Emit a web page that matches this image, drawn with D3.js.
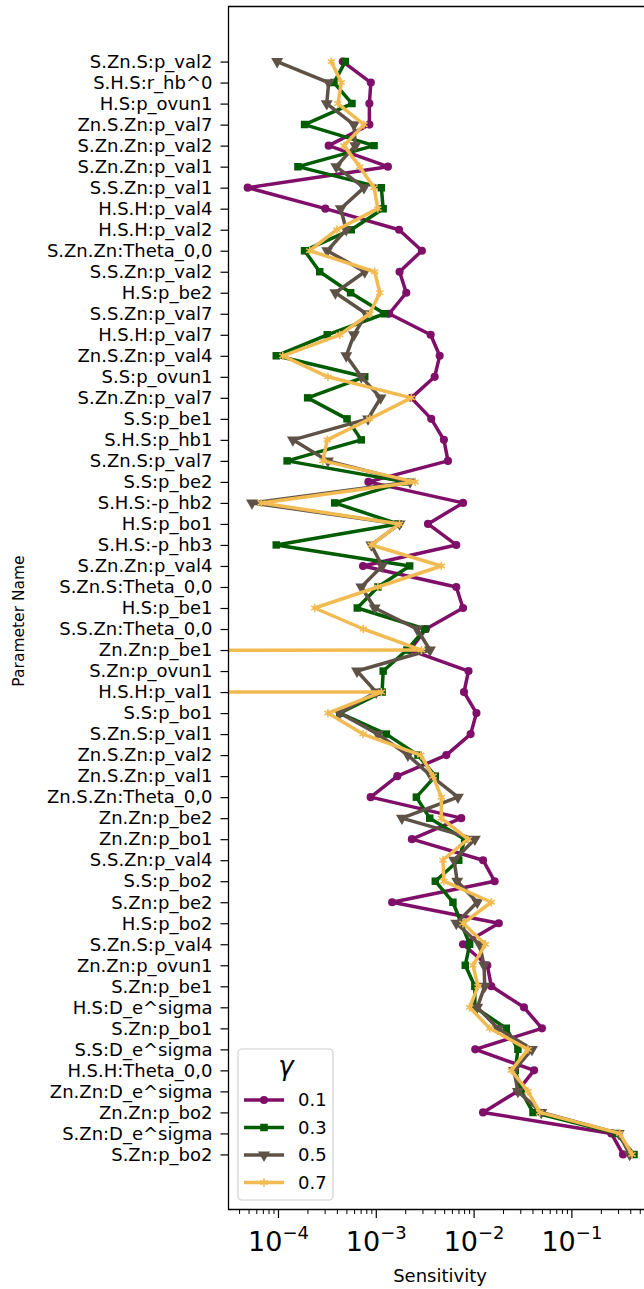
<!DOCTYPE html>
<html>
<head>
<meta charset="utf-8">
<script src="https://cdn.jsdelivr.net/npm/d3@7"></script>
<style>
  body { margin: 0; background: #fff; }
  text { font-family: "DejaVu Sans", sans-serif; }
</style>
</head>
<body>
<svg id="chart" width="644" height="1289"></svg>
<script>
// parameter names, top to bottom
var params = [
  "S.Zn.S:p_val2", "S.H.S:r_hb^0", "H.S:p_ovun1", "Zn.S.Zn:p_val7", "S.Zn.Zn:p_val2",
  "S.Zn.Zn:p_val1", "S.S.Zn:p_val1", "H.S.H:p_val4", "H.S.H:p_val2", "S.Zn.Zn:Theta_0,0",
  "S.S.Zn:p_val2", "H.S:p_be2", "S.S.Zn:p_val7", "H.S.H:p_val7", "Zn.S.Zn:p_val4",
  "S.S:p_ovun1", "S.Zn.Zn:p_val7", "S.S:p_be1", "S.H.S:p_hb1", "S.Zn.S:p_val7",
  "S.S:p_be2", "S.H.S:-p_hb2", "H.S:p_bo1", "S.H.S:-p_hb3", "S.Zn.Zn:p_val4",
  "S.Zn.S:Theta_0,0", "H.S:p_be1", "S.S.Zn:Theta_0,0", "Zn.Zn:p_be1", "S.Zn:p_ovun1",
  "H.S.H:p_val1", "S.S:p_bo1", "S.Zn.S:p_val1", "Zn.S.Zn:p_val2", "Zn.S.Zn:p_val1",
  "Zn.S.Zn:Theta_0,0", "Zn.Zn:p_be2", "Zn.Zn:p_bo1", "S.S.Zn:p_val4", "S.S:p_bo2",
  "S.Zn:p_be2", "H.S:p_bo2", "S.Zn.S:p_val4", "Zn.Zn:p_ovun1", "S.Zn:p_be1",
  "H.S:D_e^sigma", "S.Zn:p_bo1", "S.S:D_e^sigma", "H.S.H:Theta_0,0", "Zn.Zn:D_e^sigma",
  "Zn.Zn:p_bo2", "S.Zn:D_e^sigma", "S.Zn:p_bo2"
];

// sensitivity for gamma = 0.1, 0.3, 0.5, 0.7
var gamma01 = [
  4.6e-4, 8.9e-4, 8.6e-4, 8.6e-4, 3.3e-4, 1.33e-3, 4.9e-5, 3.05e-4, 1.73e-3, 2.96e-3,
  1.75e-3, 2.05e-3, 1.37e-3, 3.64e-3, 4.5e-3, 4.0e-3, 2.31e-3, 3.69e-3, 4.97e-3, 5.47e-3,
  8.4e-4, 7.8e-3, 3.42e-3, 6.65e-3, 7.4e-4, 6.65e-3, 7.8e-3, 3.26e-3, 2.24e-3, 8.87e-3,
  7.98e-3, 1.07e-2, 9.33e-3, 5.26e-3, 1.66e-3, 8.87e-4, 7.48e-3, 2.34e-3, 1.25e-2, 1.64e-2,
  1.47e-3, 1.81e-2, 7.8e-3, 1.38e-2, 1.52e-2, 3.27e-2, 5.0e-2, 1.04e-2, 4.15e-2, 2.8e-2,
  1.25e-2, 0.256, 0.337
];
var gamma03 = [
  4.88e-4, 3.74e-4, 5.71e-4, 1.87e-4, 9.6e-4, 1.6e-4, 1.14e-3, 1.19e-3, 5.61e-4, 1.87e-4,
  2.67e-4, 5.53e-4, 1.23e-3, 3.19e-4, 9.6e-5, 7.71e-4, 2.01e-4, 5.08e-4, 7.11e-4, 1.24e-4,
  1.99e-3, 3.8e-4, 1.69e-3, 9.6e-5, 2.22e-3, 1.05e-3, 6.47e-4, 3.18e-3, 2.08e-3, 1.19e-3,
  1.16e-3, 4.28e-4, 1.28e-3, 2.7e-3, 4.06e-3, 2.6e-3, 3.56e-3, 8.1e-3, 7.05e-3, 4.06e-3,
  6.15e-3, 7.48e-3, 9.12e-3, 8.22e-3, 1.03e-2, 1.03e-2, 2.16e-2, 2.84e-2, 2.67e-2, 3.08e-2,
  4.05e-2, 0.288, 0.437
];
var gamma05 = [
  9.8e-5, 3.3e-4, 3.15e-4, 5.98e-4, 6.17e-4, 3.94e-4, 7.57e-4, 4.38e-4, 4.99e-4, 3.19e-4,
  7.71e-4, 3.86e-4, 8.0e-4, 5.98e-4, 4.99e-4, 7.11e-4, 1.12e-3, 8.32e-4, 1.42e-4, 3.24e-4,
  2.24e-3, 5.42e-5, 1.75e-3, 9.0e-4, 1.16e-3, 7.11e-4, 9.75e-4, 2.64e-3, 3.58e-3, 6.43e-4,
  1.01e-3, 4.28e-4, 1.05e-3, 2.13e-3, 3.69e-3, 6.92e-3, 1.85e-3, 1.03e-2, 6.31e-3, 6.8e-3,
  1.09e-2, 6.65e-3, 1.15e-2, 1.28e-2, 1.3e-2, 1.09e-2, 1.77e-2, 3.95e-2, 2.59e-2, 2.84e-2,
  4.92e-2, 0.305, 0.394
];
var gamma07 = [
  3.51e-4, 4.44e-4, 4.1e-4, 7.57e-4, 4.73e-4, 6.84e-4, 9.6e-4, 1.05e-3, 4.0e-4, 2.11e-4,
  9.75e-4, 1.1e-3, 8.67e-4, 4.28e-4, 1.12e-4, 3.24e-4, 2.31e-3, 8.67e-4, 3.19e-4, 2.88e-4,
  2.52e-3, 6.75e-5, 1.75e-3, 9.0e-4, 4.68e-3, 1.05e-3, 2.37e-4, 7.45e-4, 2.93e-3, 0,
  1.14e-3, 3.24e-4, 7.4e-4, 2.88e-3, 3.85e-3, 4.68e-3, 4.68e-3, 8.77e-3, 4.86e-3, 4.97e-3,
  1.52e-2, 7.8e-3, 1.32e-2, 9.86e-3, 1.11e-2, 9.12e-3, 1.46e-2, 3.6e-2, 2.43e-2, 3.6e-2,
  4.74e-2, 0.312, 0.417
];

var gammaLabels = ["0.1", "0.3", "0.5", "0.7"];
var xMajorTicks = [1e-4, 1e-3, 1e-2, 1e-1];
var xTickExp = ["\u22124", "\u22123", "\u22122", "\u22121"];

var series = [
  { label: gammaLabels[0], values: gamma01, color: "#7f0f69", marker: "circle" },
  { label: gammaLabels[1], values: gamma03, color: "#005c00", marker: "square" },
  { label: gammaLabels[2], values: gamma05, color: "#5e5247", marker: "triangle" },
  { label: gammaLabels[3], values: gamma07, color: "#f2bb52", marker: "star" }
];

// plot box (right side runs off the canvas like in the original)
var boxLeft = 228.5, boxTop = 6.5, boxBottom = 1209.5, boxRight = 700;

var svg = d3.select("#chart");

var x = d3.scaleLog()
  .domain([Math.pow(10, -4.506), Math.pow(10, 0.315)])
  .range([boxLeft, boxRight]);

var y = d3.scalePoint()
  .domain(params)
  .range([boxTop, boxBottom])
  .padding(2.62);

// zero values get clipped far to the left, like matplotlib does
function xPos(v) { return x(v > 0 ? v : 1e-300); }

svg.append("clipPath").attr("id", "plotclip")
  .append("rect")
  .attr("x", boxLeft).attr("y", boxTop)
  .attr("width", boxRight - boxLeft).attr("height", boxBottom - boxTop);

var plot = svg.append("g").attr("clip-path", "url(#plotclip)");

function markerPath(kind) {
  if (kind === "circle") return d3.symbol(d3.symbolCircle, 52)();
  if (kind === "square") return d3.symbol(d3.symbolSquare, 56)();
  if (kind === "triangle") return d3.symbol(d3.symbolTriangle, 62)();
  return d3.symbol(d3.symbolAsterisk, 48)();
}

function drawMarker(g, kind, color, px, py) {
  var p = g.append("path")
    .attr("d", markerPath(kind))
    .attr("transform", "translate(" + px + "," + py + ")" + (kind === "triangle" ? " rotate(180)" : ""));
  if (kind === "star") {
    p.attr("fill", "none").attr("stroke", color).attr("stroke-width", 1.6);
  } else {
    p.attr("fill", color);
  }
}

var line = d3.line()
  .x(function (d) { return xPos(d.v); })
  .y(function (d) { return y(d.name); });

series.forEach(function (s) {
  var pts = params.map(function (name, i) { return { name: name, v: s.values[i] }; });
  plot.append("path")
    .datum(pts)
    .attr("fill", "none")
    .attr("stroke", s.color)
    .attr("stroke-width", 3.5)
    .attr("stroke-linejoin", "round")
    .attr("d", line);
  var mg = plot.append("g");
  pts.forEach(function (d) {
    drawMarker(mg, s.marker, s.color, xPos(d.v), y(d.name));
  });
});

// y axis
var yAxis = svg.append("g")
  .attr("transform", "translate(" + boxLeft + ",0)")
  .call(d3.axisLeft(y).tickSize(8).tickPadding(8));
yAxis.select(".domain").remove();
yAxis.selectAll("line").attr("stroke", "#000").attr("stroke-width", 1.2);
yAxis.selectAll("text").attr("font-size", 18).attr("fill", "#000")
  .style("font-family", "DejaVu Sans");

// x axis, minor ticks
var minor = [];
[-5, -4, -3, -2, -1, 0].forEach(function (e) {
  for (var k = 2; k <= 9; k++) {
    var v = k * Math.pow(10, e);
    if (x(v) >= boxLeft && x(v) <= 644) minor.push(v);
  }
});
var xMinor = svg.append("g")
  .attr("transform", "translate(0," + boxBottom + ")")
  .call(d3.axisBottom(x).tickValues(minor).tickSize(4.5).tickFormat(""));
xMinor.select(".domain").remove();
xMinor.selectAll("line").attr("stroke", "#000").attr("stroke-width", 1);

var xAxis = svg.append("g")
  .attr("transform", "translate(0," + boxBottom + ")")
  .call(d3.axisBottom(x).tickValues(xMajorTicks).tickSize(8.5).tickFormat(""));
xAxis.select(".domain").remove();
xAxis.selectAll("line").attr("stroke", "#000").attr("stroke-width", 1.2);
xAxis.selectAll(".tick").each(function (d, i) {
  var t = d3.select(this).append("text")
    .attr("y", 41)
    .attr("text-anchor", "middle")
    .attr("fill", "#000")
    .style("font-family", "DejaVu Sans");
  t.append("tspan").attr("font-size", 27).text("10");
  t.append("tspan").attr("font-size", 18).attr("dy", -12).text(xTickExp[i]);
});

// frame (left, top and bottom spines)
svg.append("path")
  .attr("d", "M700," + boxTop + "H" + boxLeft + "V" + boxBottom + "H700")
  .attr("fill", "none")
  .attr("stroke", "#000")
  .attr("stroke-width", 1.3);

// axis labels
svg.append("text")
  .attr("x", 440).attr("y", 1282)
  .attr("text-anchor", "middle")
  .attr("font-size", 18)
  .text("Sensitivity");

svg.append("text")
  .attr("transform", "translate(24,621) rotate(-90)")
  .attr("text-anchor", "middle")
  .attr("font-size", 15.5)
  .text("Parameter Name");

// legend
var lg = svg.append("g");
lg.append("rect")
  .attr("x", 238).attr("y", 1049)
  .attr("width", 95).attr("height", 151)
  .attr("rx", 4)
  .attr("fill", "#fff").attr("fill-opacity", 0.8)
  .attr("stroke", "#d0d0d0").attr("stroke-width", 1.2);
lg.append("text")
  .attr("x", 286).attr("y", 1075)
  .attr("text-anchor", "middle")
  .attr("font-size", 26)
  .attr("font-style", "italic")
  .text("\u03b3");
series.forEach(function (s, i) {
  var ly = 1100 + i * 27.5;
  lg.append("line")
    .attr("x1", 244).attr("x2", 284)
    .attr("y1", ly).attr("y2", ly)
    .attr("stroke", s.color).attr("stroke-width", 3.5);
  drawMarker(lg, s.marker, s.color, 264, ly);
  lg.append("text")
    .attr("x", 298).attr("y", ly)
    .attr("dy", "0.36em")
    .attr("font-size", 18)
    .text(s.label);
});
</script>
</body>
</html>
